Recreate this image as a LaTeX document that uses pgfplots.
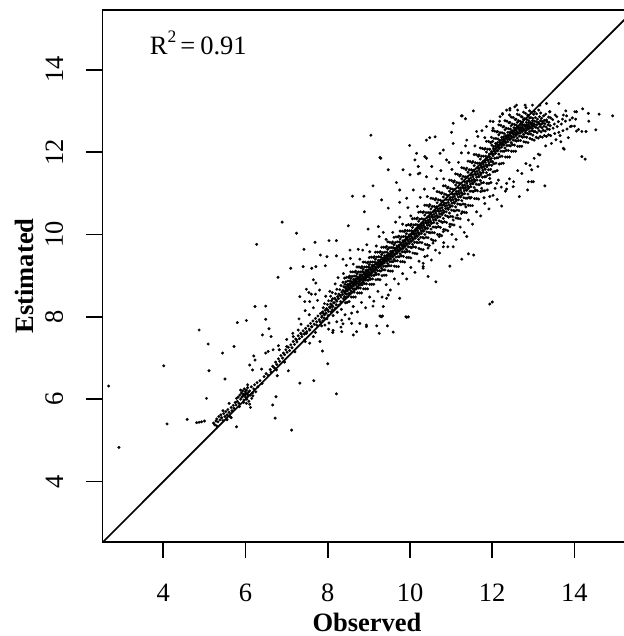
\documentclass[border=0pt]{standalone}
\usepackage{fontspec}
\setmainfont{Liberation Serif}
\usepackage{graphicx}
\usepackage{pgfplots}
\pgfplotsset{compat=1.18}
\begin{document}
\fontsize{26.5}{30}\selectfont
\begin{tikzpicture}
\begin{axis}[name=ax, scale only axis, width=529pt, height=531.7pt,
  xmin=2.52, xmax=15.388, ymin=2.54, ymax=15.45, clip=false,
  axis line style={line width=1.8pt, black},
  xtick={4,6,8,10,12,14}, ytick={4,6,8,10,12,14},
  xtick pos=bottom, ytick pos=left, tick align=outside, major tick length=16pt,
  every tick/.style={draw=black, line width=1.8pt},
  tick label style={font=\fontsize{26.5}{30}\selectfont},
  xticklabel style={anchor=base}, xticklabel shift=44pt,
  yticklabel={\rotatebox{90}{\pgfmathprintnumber{\tick}}},
  yticklabel style={anchor=east, inner sep=0pt}, yticklabel shift=23.2pt,
  xlabel={\textbf{Observed}},
  label style={font=\fontsize{26.5}{30}\selectfont},
  xlabel style={at={(axis description cs:0.5,-0.168)}, anchor=base},
  /pgf/number format/assume math mode=true]
% 1:1 line
\addplot[black, line width=1.7pt] coordinates {(2.54,2.54) (15.388,15.388)};
\pgfplotsset{dots/.style={only marks, mark=*, mark size=1.35pt, black, mark options={line width=0.3pt, draw=black, fill=black}}}
% outliers and sparse points
\addplot[dots] coordinates {
(2.67,6.32)(2.92,4.83)(4.01,6.81)(4.09,5.40)(4.58,5.51)(4.81,5.43)(4.87,5.44)(4.93,5.45)(5.00,5.47)(5.78,5.33)
(4.87,7.68)(5.09,7.34)(5.44,7.12)(5.72,7.28)(5.11,6.69)(5.05,6.02)(5.50,6.49)(5.80,7.86)(6.02,7.91)(6.23,8.25)
(6.49,8.26)(6.49,7.94)(6.41,7.56)(6.57,7.71)(6.62,7.52)(6.49,7.12)(6.55,7.16)(6.67,7.20)(6.82,7.20)(7.00,7.28)
(6.20,7.05)(6.23,6.95)(6.10,6.83)(6.39,6.73)(6.17,6.71)(6.75,6.71)(6.77,6.57)(7.04,6.69)(7.32,6.39)(7.66,6.45)
(8.00,6.86)(8.21,6.13)(6.74,6.06)(6.66,5.86)(6.72,5.54)(7.12,5.25)(7.87,7.17)(7.81,7.40)(7.56,7.36)(7.44,7.60)
(6.89,10.30)(7.24,10.03)(6.27,9.76)(7.42,9.64)(7.69,9.81)(7.40,9.22)(7.10,9.18)(6.79,8.96)(8.03,9.85)(8.21,9.85)
(7.82,9.50)(7.98,9.46)(7.61,9.18)(7.71,9.22)(7.94,9.24)(7.65,8.90)(7.71,8.82)(7.48,8.67)(7.54,8.59)(7.32,8.49)
(7.44,8.37)(7.56,8.37)(9.05,12.41)(9.27,11.87)(9.29,11.85)(9.99,12.16)(8.60,10.93)(8.88,10.93)(9.10,11.18)(9.31,10.84)
(9.67,11.26)(8.50,10.21)(8.89,10.55)(11.05,12.70)(11.27,12.88)(11.54,13.00)(11.35,12.81)(11.01,12.48)(10.48,12.35)(10.36,11.89)
(10.16,11.97)(10.20,11.65)(9.83,11.57)(10.00,11.45)(9.47,11.57)(8.98,10.13)(9.23,10.19)(9.47,10.64)(9.75,10.78)(9.92,10.88)
(10.08,11.08)(10.20,11.47)(10.40,11.40)(8.54,9.62)(8.74,9.64)(8.21,9.48)(8.37,9.40)(10.32,9.18)(10.44,8.98)(10.63,8.85)
(9.47,8.53)(9.43,8.45)(9.75,8.45)(9.90,8.00)(9.96,8.00)(9.27,8.02)(9.30,8.00)(8.94,7.76)(8.58,7.84)(8.37,7.83)
(9.19,7.78)(9.45,7.78)(9.59,7.63)(9.25,7.60)(9.92,7.99)(9.33,8.02)(8.70,7.64)(8.62,7.56)(8.34,7.64)(8.94,7.80)
(8.78,7.84)(8.13,7.67)(9.10,8.26)(9.35,8.25)(8.58,8.09)(8.34,7.92)(11.94,8.31)(12.00,8.36)
(12.35,11.24)(12.11,11.24)(11.88,11.08)(11.74,11.12)(11.60,11.08)(11.46,10.88)(11.36,10.67)(11.25,10.51)(11.15,10.47)(11.05,10.35)
(10.97,10.19)(10.81,10.07)(10.71,9.95)(10.56,9.79)(10.44,9.67)(11.38,9.95)(11.05,9.70)(10.81,9.70)(10.36,9.46)(10.32,9.30)
(10.97,9.23)(12.23,10.69)(12.66,10.92)(12.86,11.08)(11.42,9.53)(11.55,9.50)(11.26,9.40)(11.94,10.92)(11.80,10.89)(12.07,11.12)
(10.40,12.29)(10.61,12.37)(11.25,12.88)(10.73,11.97)(10.12,11.81)(9.75,11.08)(10.24,11.49)(10.53,11.65)(10.89,11.81)(10.40,11.85)
(11.05,12.21)(10.81,12.05)(11.38,12.29)(11.62,12.50)(11.86,12.62)(12.02,12.74)(12.19,12.86)(12.43,13.02)(12.59,13.14)(12.25,12.94)
(13.28,11.18)(12.96,11.28)(12.88,11.28)(13.00,11.28)(12.96,11.57)(13.11,11.65)(13.16,11.93)(13.44,12.21)(13.67,12.25)(13.73,12.09)
(13.75,12.07)(12.51,11.16)(12.35,11.10)(12.15,11.32)(11.94,11.36)(14.18,11.89)(14.26,11.83)(14.52,12.54)(14.60,12.92)(14.93,12.88)
(14.20,13.05)(14.01,12.98)(14.03,12.80)(14.00,12.63)(13.62,13.18)(13.40,12.98)(14.34,12.94)(14.05,12.98)(14.18,12.50)(14.28,12.50)
(14.05,12.51)(13.93,12.63)(13.89,12.78)(13.73,12.90)(13.79,13.00)(13.32,13.18)(13.16,13.14)(12.98,13.14)(12.80,13.14)(12.43,13.06)
(13.90,12.62)(13.95,12.83)(14.10,12.55)(14.35,12.75)(13.85,12.35)(13.65,12.40)(13.30,12.15)(13.55,12.30)
};
% upper and lower fringe of the band
\addplot[dots] coordinates {
(8.05,8.62)(7.95,8.50)(8.18,8.80)(8.25,8.95)(8.38,9.05)(8.45,9.25)(8.62,9.28)(8.55,9.42)(8.78,9.40)(8.85,9.62)
(9.02,9.58)(8.95,9.75)(9.18,9.72)(9.25,9.95)(9.42,9.88)(9.35,10.05)(9.58,10.05)(9.65,10.30)(9.82,10.25)(9.75,10.42)
(10.02,10.45)(9.95,10.65)(10.18,10.68)(10.25,10.90)(10.42,10.92)(10.35,11.10)(10.58,11.12)(10.65,11.35)(10.82,11.35)(10.75,11.55)
(11.02,11.58)(10.95,11.75)(11.18,11.75)(11.25,11.98)(11.42,11.98)(11.35,12.15)(11.58,12.15)(11.65,12.38)(11.82,12.35)(11.75,12.52)
(12.02,12.58)(11.95,12.75)(12.18,12.75)(12.25,12.92)(12.42,12.90)(12.35,13.02)(12.62,13.02)(12.55,13.10)(12.82,13.08)
(8.02,7.70)(8.12,7.62)(8.22,7.88)(8.32,7.75)(8.42,8.05)(8.52,7.95)(8.62,8.25)(8.72,8.12)(8.82,8.35)(8.92,8.22)
(9.02,8.48)(9.12,8.38)(9.22,8.62)(9.32,8.48)(9.42,8.78)(9.52,8.65)(9.62,8.92)(9.72,8.80)(9.82,9.05)(9.92,8.92)
(10.02,9.20)(10.12,9.08)(10.22,9.35)(10.32,9.22)(10.42,9.48)(10.52,9.38)(10.62,9.62)(10.72,9.55)(10.82,9.80)(10.92,9.70)
(11.02,10.00)(11.12,9.88)(11.22,10.18)(11.32,10.05)(11.42,10.35)(11.52,10.25)(11.62,10.55)(11.72,10.45)(11.82,10.75)(11.92,10.62)
(12.02,10.95)(12.12,10.85)(12.22,11.15)(12.32,11.05)(12.42,11.35)(12.52,11.28)(12.62,11.55)(12.72,11.48)(12.82,11.72)(12.92,11.68)
(13.02,11.85)(13.12,11.95)
};
% lower-left cluster and band from 6.4 to 7.9
\addplot[dots] coordinates {
(5.22,5.42)(5.25,5.38)(5.28,5.47)(5.30,5.52)(5.33,5.45)(5.35,5.58)(5.38,5.50)(5.40,5.62)(5.42,5.55)(5.45,5.48)
(5.47,5.65)(5.50,5.58)(5.52,5.70)(5.55,5.62)(5.57,5.75)(5.60,5.68)(5.62,5.58)(5.65,5.80)(5.67,5.72)(5.70,5.85)
(5.72,5.78)(5.75,5.92)(5.77,5.86)(5.80,5.95)(5.82,6.05)(5.84,5.90)(5.86,6.10)(5.88,6.00)(5.90,6.15)(5.91,6.05)
(5.93,6.20)(5.94,6.08)(5.95,6.12)(5.96,5.98)(5.97,6.25)(5.98,6.10)(5.99,6.18)(6.00,6.05)(6.01,6.14)(6.02,6.22)
(6.03,6.00)(6.04,6.12)(6.05,6.28)(6.06,6.08)(6.07,6.17)(6.08,5.95)(6.10,6.20)(6.12,6.10)(6.14,6.30)(6.15,6.02)
(6.17,6.15)(6.20,6.25)(6.22,6.35)(6.25,6.18)(6.28,6.40)(6.30,6.30)(5.95,5.92)(6.02,5.90)(6.10,5.88)(5.88,6.22)
(6.05,6.35)(6.18,6.08)(5.85,5.82)(5.78,6.02)(6.12,5.80)(6.35,6.45)(6.40,6.38)(5.65,5.55)(5.55,5.50)(5.45,5.72)
(5.30,5.35)(5.60,5.90)
(6.45,6.55)(6.50,6.62)(6.55,6.58)(6.60,6.72)(6.62,6.66)(6.66,6.80)(6.70,6.76)(6.73,6.90)(6.76,6.84)(6.80,6.98)
(6.83,6.92)(6.86,7.06)(6.90,7.00)(6.92,7.12)(6.95,7.08)(6.98,7.20)(7.01,7.14)(7.04,7.26)(7.07,7.18)(7.10,7.32)
(7.13,7.25)(7.16,7.40)(7.19,7.33)(7.22,7.46)(7.25,7.39)(7.28,7.54)(7.31,7.47)(7.34,7.60)(7.37,7.52)(7.40,7.66)
(7.43,7.58)(7.46,7.72)(7.49,7.64)(7.52,7.78)(7.55,7.70)(7.58,7.84)(7.61,7.76)(7.64,7.90)(7.67,7.82)(7.70,7.96)
(7.73,7.88)(7.76,8.02)(7.79,7.93)(7.82,8.08)(7.85,7.99)(7.88,8.12)
(6.95,6.90)(7.20,7.15)(7.45,7.40)(7.70,7.62)(7.85,7.78)(7.15,7.60)(7.35,7.82)(7.55,8.05)(7.65,8.22)(7.75,8.40)
(7.30,7.95)(7.00,7.45)(6.80,7.30)(7.45,8.15)(7.60,8.55)(7.80,8.65)(7.70,8.55)
(7.48,7.60)(7.56,7.68)(7.61,7.76)(7.73,7.80)(7.81,7.88)(7.65,7.52)(7.44,7.44)(7.24,7.44)(7.16,7.52)(7.28,7.68)(7.36,7.58)
};
% dense band, 7.9 to 13.8
\addplot[dots] coordinates {
(7.93,7.80)(7.88,7.90)(7.91,7.97)(7.86,8.02)(7.92,8.05)(7.90,8.08)(7.87,8.11)(7.94,8.16)(7.89,8.22)(7.92,8.32)
(8.03,7.85)(7.98,7.95)(8.01,8.03)(7.96,8.09)(8.02,8.13)(8.00,8.17)(7.97,8.20)(8.04,8.24)(7.99,8.30)(8.02,8.39)
(8.13,8.03)(8.08,8.12)(8.11,8.17)(8.06,8.22)(8.12,8.25)(8.10,8.28)(8.07,8.31)(8.14,8.34)(8.09,8.39)(8.12,8.44)(8.07,8.50)(8.11,8.59)
(8.23,8.11)(8.18,8.21)(8.21,8.29)(8.16,8.34)(8.22,8.38)(8.20,8.41)(8.17,8.45)(8.24,8.49)(8.19,8.56)(8.22,8.67)
(8.33,8.18)(8.28,8.29)(8.31,8.37)(8.26,8.44)(8.32,8.48)(8.30,8.52)(8.27,8.55)(8.34,8.60)(8.29,8.66)(8.32,8.76)
(8.43,8.34)(8.38,8.44)(8.41,8.49)(8.36,8.54)(8.42,8.57)(8.40,8.61)(8.37,8.64)(8.44,8.68)(8.39,8.73)(8.42,8.79)(8.37,8.84)(8.41,8.94)
(8.47,8.35)(8.44,8.47)(8.46,8.55)(8.43,8.61)(8.47,8.65)(8.45,8.68)(8.43,8.72)(8.48,8.78)(8.44,8.85)(8.46,8.96)
(8.52,8.37)(8.49,8.49)(8.51,8.57)(8.48,8.63)(8.52,8.68)(8.50,8.72)(8.48,8.75)(8.53,8.80)(8.49,8.87)(8.51,8.96)
(8.57,8.48)(8.54,8.57)(8.56,8.63)(8.53,8.68)(8.57,8.71)(8.55,8.75)(8.53,8.78)(8.58,8.82)(8.54,8.87)(8.56,8.93)(8.53,8.99)(8.56,9.09)
(8.62,8.48)(8.59,8.60)(8.61,8.68)(8.58,8.74)(8.62,8.78)(8.60,8.81)(8.58,8.85)(8.63,8.91)(8.59,8.98)(8.61,9.09)
(8.67,8.48)(8.64,8.60)(8.66,8.68)(8.63,8.75)(8.67,8.80)(8.65,8.84)(8.63,8.87)(8.68,8.92)(8.64,8.99)(8.66,9.09)
(8.72,8.58)(8.69,8.68)(8.71,8.74)(8.68,8.79)(8.72,8.82)(8.70,8.86)(8.68,8.89)(8.73,8.93)(8.69,8.99)(8.71,9.05)(8.68,9.11)(8.71,9.21)
(8.77,8.58)(8.74,8.70)(8.76,8.79)(8.73,8.85)(8.77,8.89)(8.75,8.92)(8.73,8.96)(8.78,9.02)(8.74,9.09)(8.76,9.21)
(8.82,8.58)(8.79,8.70)(8.81,8.78)(8.78,8.85)(8.82,8.90)(8.80,8.94)(8.78,8.97)(8.83,9.02)(8.79,9.09)(8.81,9.19)
(8.87,8.68)(8.84,8.78)(8.86,8.84)(8.83,8.90)(8.87,8.93)(8.85,8.97)(8.83,9.00)(8.88,9.04)(8.84,9.10)(8.86,9.16)(8.83,9.22)(8.86,9.33)
(8.92,8.68)(8.89,8.81)(8.91,8.89)(8.88,8.96)(8.92,9.00)(8.90,9.04)(8.88,9.08)(8.93,9.13)(8.89,9.21)(8.91,9.33)
(8.97,8.68)(8.94,8.80)(8.96,8.89)(8.93,8.96)(8.97,9.01)(8.95,9.05)(8.93,9.09)(8.98,9.14)(8.94,9.21)(8.96,9.31)
(9.02,8.79)(8.99,8.89)(9.01,8.95)(8.98,9.01)(9.02,9.04)(9.00,9.08)(8.98,9.11)(9.03,9.15)(8.99,9.21)(9.01,9.27)(8.98,9.33)(9.01,9.44)
(9.07,8.79)(9.04,8.91)(9.06,9.00)(9.03,9.07)(9.07,9.11)(9.05,9.15)(9.03,9.19)(9.08,9.25)(9.04,9.33)(9.06,9.45)
(9.12,8.79)(9.09,8.92)(9.11,9.01)(9.08,9.08)(9.12,9.13)(9.10,9.17)(9.08,9.21)(9.13,9.26)(9.09,9.33)(9.11,9.44)
(9.17,8.90)(9.14,9.01)(9.16,9.07)(9.13,9.13)(9.17,9.16)(9.15,9.20)(9.13,9.23)(9.18,9.28)(9.14,9.33)(9.16,9.40)(9.13,9.46)(9.16,9.57)
(9.22,8.91)(9.19,9.03)(9.21,9.12)(9.18,9.19)(9.22,9.23)(9.20,9.27)(9.18,9.31)(9.23,9.37)(9.19,9.45)(9.21,9.57)
(9.27,8.90)(9.24,9.03)(9.26,9.12)(9.23,9.20)(9.27,9.25)(9.25,9.29)(9.23,9.33)(9.28,9.38)(9.24,9.46)(9.26,9.57)
(9.32,9.00)(9.29,9.11)(9.31,9.18)(9.28,9.23)(9.32,9.27)(9.30,9.31)(9.28,9.34)(9.33,9.39)(9.29,9.45)(9.31,9.51)(9.28,9.58)(9.31,9.69)
(9.37,9.01)(9.34,9.14)(9.36,9.23)(9.33,9.30)(9.37,9.34)(9.35,9.38)(9.33,9.42)(9.38,9.48)(9.34,9.56)(9.36,9.69)
(9.42,9.01)(9.39,9.14)(9.41,9.23)(9.38,9.31)(9.42,9.36)(9.40,9.40)(9.38,9.44)(9.43,9.49)(9.39,9.57)(9.41,9.68)
(9.47,9.12)(9.44,9.23)(9.46,9.29)(9.43,9.35)(9.47,9.39)(9.45,9.43)(9.43,9.47)(9.48,9.51)(9.44,9.57)(9.46,9.64)(9.43,9.71)(9.46,9.82)
(9.52,9.11)(9.49,9.24)(9.51,9.34)(9.48,9.40)(9.52,9.45)(9.50,9.49)(9.48,9.53)(9.53,9.59)(9.49,9.68)(9.51,9.81)
(9.57,9.11)(9.54,9.24)(9.56,9.34)(9.53,9.41)(9.57,9.47)(9.55,9.51)(9.53,9.55)(9.58,9.60)(9.54,9.68)(9.56,9.79)
(9.62,9.23)(9.59,9.34)(9.61,9.40)(9.58,9.46)(9.62,9.50)(9.60,9.54)(9.58,9.58)(9.63,9.62)(9.59,9.68)(9.61,9.75)(9.58,9.82)(9.61,9.93)
(9.67,9.22)(9.64,9.36)(9.66,9.45)(9.63,9.52)(9.67,9.57)(9.65,9.61)(9.63,9.66)(9.68,9.72)(9.64,9.80)(9.66,9.94)
(9.72,9.22)(9.69,9.36)(9.71,9.46)(9.68,9.54)(9.72,9.60)(9.70,9.64)(9.68,9.68)(9.73,9.74)(9.69,9.82)(9.71,9.94)
(9.77,9.34)(9.74,9.46)(9.76,9.53)(9.73,9.59)(9.77,9.63)(9.75,9.67)(9.73,9.71)(9.78,9.76)(9.74,9.82)(9.76,9.89)(9.73,9.96)(9.76,10.08)
(9.82,9.34)(9.79,9.48)(9.81,9.58)(9.78,9.65)(9.82,9.70)(9.80,9.74)(9.78,9.79)(9.83,9.85)(9.79,9.94)(9.81,10.08)
(9.87,9.33)(9.84,9.47)(9.86,9.58)(9.83,9.66)(9.87,9.72)(9.85,9.76)(9.83,9.81)(9.88,9.86)(9.84,9.95)(9.86,10.07)
(9.92,9.44)(9.89,9.57)(9.91,9.64)(9.88,9.70)(9.92,9.75)(9.90,9.79)(9.88,9.83)(9.93,9.88)(9.89,9.95)(9.91,10.02)(9.88,10.10)(9.91,10.22)
(9.97,9.44)(9.94,9.59)(9.96,9.70)(9.93,9.78)(9.97,9.83)(9.95,9.87)(9.93,9.92)(9.98,9.99)(9.94,10.09)(9.96,10.24)
(10.02,9.43)(9.99,9.58)(10.01,9.69)(9.98,9.78)(10.02,9.84)(10.00,9.89)(9.98,9.94)(10.03,10.00)(9.99,10.09)(10.01,10.22)
(10.07,9.55)(10.04,9.68)(10.06,9.76)(10.03,9.83)(10.07,9.87)(10.05,9.92)(10.03,9.96)(10.08,10.02)(10.04,10.09)(10.06,10.17)(10.03,10.25)(10.06,10.38)
(10.12,9.54)(10.09,9.70)(10.11,9.81)(10.08,9.89)(10.12,9.95)(10.10,10.00)(10.08,10.05)(10.13,10.12)(10.09,10.23)(10.11,10.39)
(10.17,9.53)(10.14,9.69)(10.16,9.81)(10.13,9.91)(10.17,9.97)(10.15,10.02)(10.13,10.08)(10.18,10.14)(10.14,10.24)(10.16,10.38)
(10.22,9.66)(10.19,9.80)(10.21,9.88)(10.18,9.95)(10.22,10.00)(10.20,10.05)(10.18,10.10)(10.23,10.16)(10.19,10.23)(10.21,10.32)(10.18,10.40)(10.21,10.54)
(10.27,9.64)(10.24,9.81)(10.26,9.93)(10.23,10.02)(10.27,10.08)(10.25,10.13)(10.23,10.19)(10.28,10.27)(10.24,10.37)(10.26,10.55)
(10.32,9.63)(10.29,9.80)(10.31,9.93)(10.28,10.03)(10.32,10.10)(10.30,10.16)(10.28,10.21)(10.33,10.28)(10.29,10.38)(10.31,10.53)
(10.37,9.76)(10.34,9.91)(10.36,10.00)(10.33,10.08)(10.37,10.13)(10.35,10.18)(10.33,10.23)(10.38,10.29)(10.34,10.37)(10.36,10.47)(10.33,10.55)(10.36,10.71)
(10.42,9.75)(10.39,9.93)(10.41,10.06)(10.38,10.16)(10.42,10.22)(10.40,10.27)(10.38,10.33)(10.43,10.42)(10.39,10.53)(10.41,10.71)
(10.47,9.73)(10.44,9.92)(10.46,10.05)(10.43,10.15)(10.47,10.23)(10.45,10.29)(10.43,10.34)(10.48,10.42)(10.44,10.53)(10.46,10.68)
(10.52,9.88)(10.49,10.04)(10.51,10.13)(10.48,10.21)(10.52,10.27)(10.50,10.32)(10.48,10.37)(10.53,10.44)(10.49,10.53)(10.51,10.62)(10.48,10.72)(10.51,10.88)
(10.57,9.85)(10.54,10.05)(10.56,10.18)(10.53,10.28)(10.57,10.35)(10.55,10.41)(10.53,10.47)(10.58,10.56)(10.54,10.68)(10.56,10.87)
(10.62,9.85)(10.59,10.04)(10.61,10.18)(10.58,10.29)(10.62,10.37)(10.60,10.43)(10.58,10.49)(10.63,10.57)(10.59,10.68)(10.61,10.84)
(10.67,10.00)(10.64,10.17)(10.66,10.27)(10.63,10.35)(10.67,10.41)(10.65,10.46)(10.63,10.52)(10.68,10.58)(10.64,10.67)(10.66,10.77)(10.63,10.87)(10.66,11.04)
(10.72,10.00)(10.69,10.19)(10.71,10.33)(10.68,10.43)(10.72,10.50)(10.70,10.56)(10.68,10.62)(10.73,10.71)(10.69,10.84)(10.71,11.03)
(10.77,9.97)(10.74,10.17)(10.76,10.31)(10.73,10.43)(10.77,10.51)(10.75,10.57)(10.73,10.63)(10.78,10.71)(10.74,10.83)(10.76,11.00)
(10.82,10.12)(10.79,10.29)(10.81,10.39)(10.78,10.48)(10.82,10.53)(10.80,10.59)(10.78,10.65)(10.83,10.72)(10.79,10.81)(10.81,10.91)(10.78,11.01)(10.81,11.18)
(10.87,10.11)(10.84,10.31)(10.86,10.46)(10.83,10.56)(10.87,10.63)(10.85,10.69)(10.83,10.76)(10.88,10.85)(10.84,10.98)(10.86,11.18)
(10.92,10.09)(10.89,10.29)(10.91,10.44)(10.88,10.55)(10.92,10.64)(10.90,10.70)(10.88,10.76)(10.93,10.84)(10.89,10.96)(10.91,11.13)
(10.97,10.25)(10.94,10.42)(10.96,10.52)(10.93,10.61)(10.97,10.66)(10.95,10.72)(10.93,10.78)(10.98,10.85)(10.94,10.94)(10.96,11.05)(10.93,11.15)(10.96,11.32)
(11.02,10.24)(10.99,10.44)(11.01,10.59)(10.98,10.69)(11.02,10.76)(11.00,10.82)(10.98,10.89)(11.03,10.98)(10.99,11.11)(11.01,11.31)
(11.07,10.23)(11.04,10.43)(11.06,10.58)(11.03,10.69)(11.07,10.78)(11.05,10.84)(11.03,10.90)(11.08,10.98)(11.04,11.10)(11.06,11.27)
(11.12,10.40)(11.09,10.57)(11.11,10.67)(11.08,10.76)(11.12,10.81)(11.10,10.87)(11.08,10.93)(11.13,11.00)(11.09,11.09)(11.11,11.20)(11.08,11.30)(11.11,11.47)
(11.17,10.39)(11.14,10.59)(11.16,10.74)(11.13,10.84)(11.17,10.91)(11.15,10.97)(11.13,11.04)(11.18,11.13)(11.14,11.26)(11.16,11.46)
(11.22,10.38)(11.19,10.58)(11.21,10.73)(11.18,10.84)(11.22,10.93)(11.20,10.99)(11.18,11.05)(11.23,11.13)(11.19,11.25)(11.21,11.42)
(11.27,10.55)(11.24,10.72)(11.26,10.82)(11.23,10.91)(11.27,10.96)(11.25,11.02)(11.23,11.08)(11.28,11.15)(11.24,11.24)(11.26,11.35)(11.23,11.45)(11.26,11.62)
(11.32,10.54)(11.29,10.74)(11.31,10.89)(11.28,10.99)(11.32,11.06)(11.30,11.12)(11.28,11.19)(11.33,11.28)(11.29,11.41)(11.31,11.61)
(11.37,10.53)(11.34,10.73)(11.36,10.88)(11.33,10.99)(11.37,11.08)(11.35,11.14)(11.33,11.20)(11.38,11.28)(11.34,11.40)(11.36,11.57)
(11.42,10.71)(11.39,10.88)(11.41,10.98)(11.38,11.07)(11.42,11.12)(11.40,11.18)(11.38,11.24)(11.43,11.31)(11.39,11.40)(11.41,11.51)(11.38,11.61)(11.41,11.78)
(11.47,10.70)(11.44,10.90)(11.46,11.05)(11.43,11.15)(11.47,11.22)(11.45,11.28)(11.43,11.35)(11.48,11.44)(11.44,11.57)(11.46,11.77)
(11.52,10.70)(11.49,10.90)(11.51,11.05)(11.48,11.16)(11.52,11.25)(11.50,11.31)(11.48,11.37)(11.53,11.45)(11.49,11.57)(11.51,11.74)
(11.57,10.87)(11.54,11.04)(11.56,11.14)(11.53,11.23)(11.57,11.28)(11.55,11.34)(11.53,11.40)(11.58,11.47)(11.54,11.56)(11.56,11.67)(11.53,11.77)(11.56,11.94)
(11.62,10.87)(11.59,11.07)(11.61,11.22)(11.58,11.32)(11.62,11.39)(11.60,11.45)(11.58,11.52)(11.63,11.61)(11.59,11.74)(11.61,11.94)
(11.67,10.86)(11.64,11.06)(11.66,11.21)(11.63,11.32)(11.67,11.41)(11.65,11.47)(11.63,11.53)(11.68,11.61)(11.64,11.73)(11.66,11.90)
(11.72,11.04)(11.69,11.21)(11.71,11.31)(11.68,11.40)(11.72,11.45)(11.70,11.51)(11.68,11.57)(11.73,11.64)(11.69,11.73)(11.71,11.83)(11.68,11.93)(11.71,12.10)
(11.77,11.06)(11.74,11.25)(11.76,11.39)(11.73,11.49)(11.77,11.56)(11.75,11.62)(11.73,11.68)(11.78,11.77)(11.74,11.90)(11.76,12.09)
(11.82,11.06)(11.79,11.26)(11.81,11.40)(11.78,11.51)(11.82,11.59)(11.80,11.65)(11.78,11.71)(11.83,11.79)(11.79,11.90)(11.81,12.07)
(11.87,11.24)(11.84,11.40)(11.86,11.50)(11.83,11.58)(11.87,11.64)(11.85,11.69)(11.83,11.75)(11.88,11.81)(11.84,11.90)(11.86,12.00)(11.83,12.09)(11.86,12.26)
(11.92,11.24)(11.89,11.44)(11.91,11.57)(11.88,11.67)(11.92,11.74)(11.90,11.80)(11.88,11.86)(11.93,11.95)(11.89,12.07)(11.91,12.26)
(11.97,11.26)(11.94,11.45)(11.96,11.58)(11.93,11.69)(11.97,11.77)(11.95,11.83)(11.93,11.89)(11.98,11.96)(11.94,12.07)(11.96,12.23)
(12.02,11.52)(11.99,11.68)(12.01,11.77)(11.98,11.85)(12.02,11.91)(12.00,11.96)(11.98,12.01)(12.03,12.08)(11.99,12.17)(12.01,12.26)(11.98,12.36)(12.01,12.52)
(12.07,11.53)(12.04,11.72)(12.06,11.85)(12.03,11.95)(12.07,12.01)(12.05,12.06)(12.03,12.13)(12.08,12.21)(12.04,12.33)(12.06,12.51)
(12.12,11.55)(12.09,11.73)(12.11,11.86)(12.08,11.97)(12.12,12.04)(12.10,12.10)(12.08,12.15)(12.13,12.23)(12.09,12.33)(12.11,12.49)
(12.17,11.71)(12.14,11.86)(12.16,11.95)(12.13,12.03)(12.17,12.08)(12.15,12.13)(12.13,12.18)(12.18,12.24)(12.14,12.32)(12.16,12.42)(12.13,12.50)(12.16,12.66)
(12.22,11.72)(12.19,11.89)(12.21,12.02)(12.18,12.11)(12.22,12.17)(12.20,12.22)(12.18,12.28)(12.23,12.36)(12.19,12.47)(12.21,12.65)
(12.27,11.73)(12.24,11.90)(12.26,12.02)(12.23,12.12)(12.27,12.19)(12.25,12.24)(12.23,12.30)(12.28,12.37)(12.24,12.47)(12.26,12.61)
(12.32,11.88)(12.29,12.02)(12.31,12.10)(12.28,12.17)(12.32,12.22)(12.30,12.27)(12.28,12.32)(12.33,12.38)(12.29,12.45)(12.31,12.54)(12.28,12.62)(12.31,12.76)
(12.37,11.88)(12.34,12.04)(12.36,12.16)(12.33,12.24)(12.37,12.30)(12.35,12.35)(12.33,12.40)(12.38,12.48)(12.34,12.58)(12.36,12.75)
(12.42,11.88)(12.39,12.04)(12.41,12.16)(12.38,12.25)(12.42,12.31)(12.40,12.36)(12.38,12.41)(12.43,12.48)(12.39,12.57)(12.41,12.71)
(12.47,12.02)(12.44,12.15)(12.46,12.23)(12.43,12.30)(12.47,12.34)(12.45,12.39)(12.43,12.43)(12.48,12.49)(12.44,12.56)(12.46,12.64)(12.43,12.72)(12.46,12.85)
(12.52,12.02)(12.49,12.18)(12.51,12.29)(12.48,12.37)(12.52,12.42)(12.50,12.46)(12.48,12.52)(12.53,12.59)(12.49,12.68)(12.51,12.84)
(12.57,12.02)(12.54,12.17)(12.56,12.28)(12.53,12.36)(12.57,12.42)(12.55,12.47)(12.53,12.52)(12.58,12.58)(12.54,12.67)(12.56,12.79)
(12.62,12.14)(12.59,12.27)(12.61,12.34)(12.58,12.40)(12.62,12.45)(12.60,12.49)(12.58,12.53)(12.63,12.58)(12.59,12.65)(12.61,12.72)(12.58,12.80)(12.61,12.92)
(12.67,12.14)(12.64,12.28)(12.66,12.39)(12.63,12.46)(12.67,12.51)(12.65,12.55)(12.63,12.60)(12.68,12.67)(12.64,12.76)(12.66,12.90)
(12.72,12.14)(12.69,12.28)(12.71,12.38)(12.68,12.46)(12.72,12.52)(12.70,12.56)(12.68,12.60)(12.73,12.66)(12.69,12.74)(12.71,12.86)
(12.77,12.25)(12.74,12.36)(12.76,12.43)(12.73,12.49)(12.77,12.53)(12.75,12.57)(12.73,12.61)(12.78,12.65)(12.74,12.72)(12.76,12.79)(12.73,12.85)(12.76,12.97)
(12.82,12.24)(12.79,12.37)(12.81,12.47)(12.78,12.53)(12.82,12.58)(12.80,12.62)(12.78,12.66)(12.83,12.72)(12.79,12.81)(12.81,12.94)
(12.87,12.23)(12.84,12.36)(12.86,12.45)(12.83,12.53)(12.87,12.58)(12.85,12.62)(12.83,12.66)(12.88,12.71)(12.84,12.79)(12.86,12.90)
(12.92,12.33)(12.89,12.44)(12.91,12.50)(12.88,12.56)(12.92,12.59)(12.90,12.63)(12.88,12.66)(12.93,12.71)(12.89,12.76)(12.91,12.83)(12.88,12.89)(12.91,13.00)
(12.97,12.31)(12.94,12.44)(12.96,12.52)(12.93,12.59)(12.97,12.63)(12.95,12.67)(12.93,12.71)(12.98,12.76)(12.94,12.84)(12.96,12.96)
(13.02,12.29)(12.99,12.41)(13.01,12.50)(12.98,12.57)(13.02,12.62)(13.00,12.66)(12.98,12.70)(13.03,12.75)(12.99,12.82)(13.01,12.92)
(13.07,12.36)(13.04,12.50)(13.06,12.60)(13.03,12.67)(13.07,12.74)(13.05,12.84)(13.03,12.98)
(13.12,12.34)(13.09,12.47)(13.11,12.58)(13.08,12.66)(13.12,12.72)(13.10,12.80)(13.08,12.93)
(13.17,12.38)(13.14,12.52)(13.16,12.62)(13.13,12.69)(13.17,12.76)(13.15,12.86)(13.13,13.02)
(13.22,12.36)(13.19,12.49)(13.21,12.59)(13.18,12.67)(13.22,12.74)(13.20,12.82)(13.18,12.95)
(13.27,12.40)(13.24,12.53)(13.26,12.63)(13.23,12.70)(13.27,12.77)(13.25,12.88)
(13.32,12.38)(13.29,12.51)(13.31,12.61)(13.28,12.69)(13.32,12.78)(13.30,12.92)
(13.37,12.42)(13.34,12.56)(13.36,12.66)(13.33,12.74)(13.37,12.85)
(13.42,12.40)(13.39,12.55)(13.41,12.64)(13.38,12.72)(13.42,12.83)(13.40,12.98)
(13.52,12.45)(13.48,12.58)(13.51,12.68)(13.47,12.79)(13.53,12.90)
(13.62,12.48)(13.58,12.62)(13.61,12.74)(13.57,12.86)
(13.72,12.52)(13.68,12.68)(13.71,12.80)
(13.82,12.56)(13.78,12.75)(13.81,12.88)
};
\node[anchor=base west, inner sep=0pt, font=\fontsize{26.5}{30}\selectfont] at (axis cs:3.67,14.37)
  {R\raisebox{11.6pt}{\fontsize{17.5}{20}\selectfont 2}\hspace{4pt}=\hspace{5pt}0.91};
% tick marks as typeset rules (16pt long, 1.8pt wide), outside the box
\node[anchor=north, inner sep=0pt] at (axis cs:4,2.54) {\rule{1.8pt}{16pt}};
\node[anchor=north, inner sep=0pt] at (axis cs:6,2.54) {\rule{1.8pt}{16pt}};
\node[anchor=north, inner sep=0pt] at (axis cs:8,2.54) {\rule{1.8pt}{16pt}};
\node[anchor=north, inner sep=0pt] at (axis cs:10,2.54) {\rule{1.8pt}{16pt}};
\node[anchor=north, inner sep=0pt] at (axis cs:12,2.54) {\rule{1.8pt}{16pt}};
\node[anchor=north, inner sep=0pt] at (axis cs:14,2.54) {\rule{1.8pt}{16pt}};
\node[anchor=east, inner sep=0pt] at (axis cs:2.52,4) {\rule[-0.9pt]{16pt}{1.8pt}};
\node[anchor=east, inner sep=0pt] at (axis cs:2.52,6) {\rule[-0.9pt]{16pt}{1.8pt}};
\node[anchor=east, inner sep=0pt] at (axis cs:2.52,8) {\rule[-0.9pt]{16pt}{1.8pt}};
\node[anchor=east, inner sep=0pt] at (axis cs:2.52,10) {\rule[-0.9pt]{16pt}{1.8pt}};
\node[anchor=east, inner sep=0pt] at (axis cs:2.52,12) {\rule[-0.9pt]{16pt}{1.8pt}};
\node[anchor=east, inner sep=0pt] at (axis cs:2.52,14) {\rule[-0.9pt]{16pt}{1.8pt}};
\end{axis}
\node[rotate=90, anchor=base, inner sep=0pt, font=\fontsize{26.5}{30}\selectfont] at ([xshift=-69.2pt]ax.west) {\textbf{Estimated}};
\pgfresetboundingbox
\path[use as bounding box] ([shift={(-102.5pt,-94.3pt)}]ax.south west) rectangle ([shift={(-8.5pt,10pt)}]ax.north east);
\end{tikzpicture}
\end{document}
